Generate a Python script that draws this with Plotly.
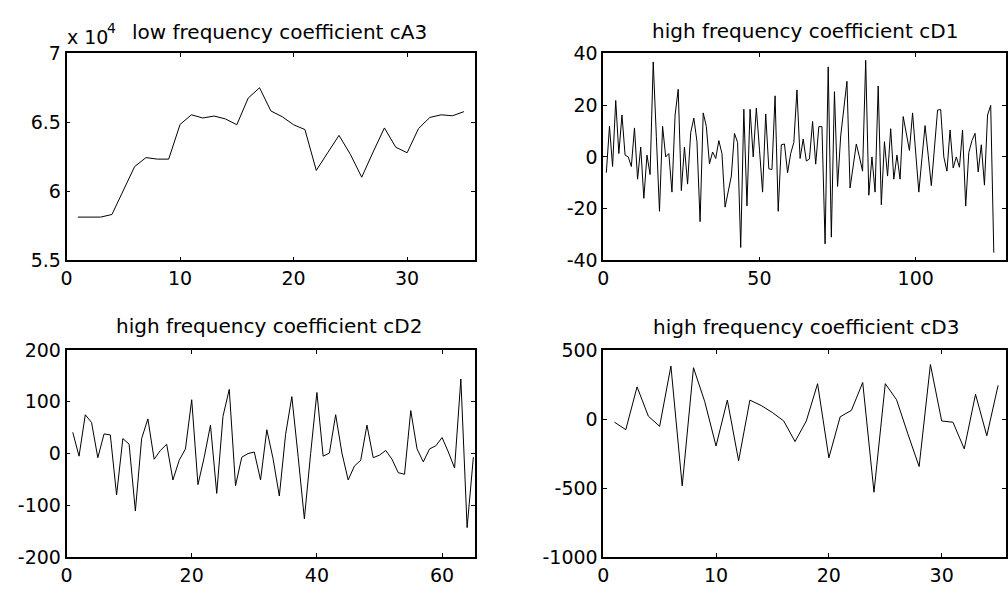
import plotly.graph_objects as go

# ---------------- data ----------------
cA3 = [58140, 58140, 58140, 58330, 60120, 61800, 62450, 62340, 62340, 64850,
       65550, 65320, 65460, 65250, 64830, 66760, 67510, 65830, 65410, 64830,
       64480, 61520, 62800, 64060, 62690, 61030, 62850, 64600, 63200, 62800,
       64550, 65360, 65550, 65480, 65780]

cD1 = [-6.1, 11.8, -3.7, 21.8, 1.3, 16.2, 0.7, 0, -3.7, 11.2,
       -8.6, 3.8, -16, 0.7, -6.8, 36.7, 8, -21, 11.8, 0,
       1.3, -13.6, 16.2, 26.1, -13, 3.8, -10.5, 9.4, 15, 6,
       -25, 17, 11.8, -2.7, 1.9, -0.6, 6.3, 1.3, -19.4, -13,
       -7.4, 9.1, 5.6, -35, 18.4, -18.9, 18.4, 0, 18.9, 3,
       -13.6, 16.6, -4.6, -4.9, 23.6, -21, 4.7, 5, -6.1, 1.3,
       5.6, 25.9, -0.6, 6.9, -1.6, -0.8, 13.7, -2.8, 11.7, 11.7,
       -33.6, 34.8, -31, 25.2, -11.4, 8.1, 19, 29.2, -12, -3,
       5, 0, -5.5, 37.3, -14.8, 0, -13.6, 27.4, -18.5, 5.9,
       -7.4, 10.9, -8.6, 0.7, -8.6, 15.6, 9, 2.5, 17, 2,
       -13.6, -0.5, 12.1, 0.7, -11.1, 3.4, 18.1, 18.3, 0, -5.5,
       10.4, -4.3, 0, -4, 10.4, -19, 1.7, 6.3, 9.1, -5.8,
       4.7, -10.9, 16.2, 19.9, -37]

cD2 = [41, -5, 75, 60, -8, 38, 36, -80, 29, 18,
       -111, 29, 67, -11, 6, 18, -51, -13, 9, 104,
       -60, -7, 55, -77, 72, 124, -62, -7, 0, 3,
       -51, 46, -10, -82, 37, 110, -5, -126, 0, 118,
       -5, 1, 75, 1, -51, -24, -13, 55, -8, -3,
       6, -11, -37, -40, 83, 9, -16, 9, 15, 31,
       3, -28, 144, -143, -7]

cD3 = [-23, -77, 233, 21, -53, 384, -484, 372, 126, -195,
       137, -302, 137, 98, 47, -14, -163, -14, 256, -281,
       16, 63, 265, -530, 256, 140, -107, -344, 395, -14,
       -23, -216, 179, -121, 244]

titles = ["low frequency coefficient cA3", "high frequency coefficient cD1",
          "high frequency coefficient cD2", "high frequency coefficient cD3"]
exponent_base = "x 10"
exponent_power = "4"

cA3_yticks = [55000, 60000, 65000, 70000]
cA3_yticklabels = ["5.5", "6", "6.5", "7"]
cD1_yticks = [-40, -20, 0, 20, 40]
cD1_yticklabels = ["-40", "-20", "0", "20", "40"]
cD2_yticks = [-200, -100, 0, 100, 200]
cD2_yticklabels = ["-200", "-100", "0", "100", "200"]
cD3_yticks = [-1000, -500, 0, 500]
cD3_yticklabels = ["-1000", "-500", "0", "500"]

cA3_xticks = [0, 10, 20, 30]
cD1_xticks = [0, 50, 100]
cD2_xticks = [0, 20, 40, 60]
cD3_xticks = [0, 10, 20, 30]

# ---------------- figure ----------------
W, H = 1008, 597
FONT = "DejaVu Sans"


def px(x):
    return x / W


def py(y):
    return 1 - y / H


series = [cA3, cD1, cD2, cD3]
xdom = [[px(61), px(473)], [px(602), 1.0], [px(61), px(473)], [px(602), 1.0]]
ydom = [[py(259), py(44)], [py(259), py(44)], [py(567), py(352)], [py(567), py(352)]]
xr = [[0, 36], [0, 128.9], [0, 65.3], [0, 35.7]]
yr = [[55000, 70000], [-40, 40], [-200, 200], [-1000, 500]]
yt = [(cA3_yticks, cA3_yticklabels), (cD1_yticks, cD1_yticklabels),
      (cD2_yticks, cD2_yticklabels), (cD3_yticks, cD3_yticklabels)]
xt = [cA3_xticks, cD1_xticks, cD2_xticks, cD3_xticks]

fig = go.Figure()
layout = dict(
    width=W, height=H,
    margin=dict(l=0, r=0, t=0, b=0),
    paper_bgcolor="white", plot_bgcolor="white",
    showlegend=False,
    font=dict(family=FONT, size=19, color="black"),
)

for i, s in enumerate(series):
    n = i + 1
    xa = "x" if n == 1 else f"x{n}"
    ya = "y" if n == 1 else f"y{n}"
    fig.add_trace(go.Scatter(
        x=list(range(1, len(s) + 1)), y=s, mode="lines",
        line=dict(color="black", width=1),
        xaxis=xa, yaxis=ya, hoverinfo="skip"))
    common = dict(showline=True, linecolor="black", linewidth=1.5, mirror="ticks",
                  ticks="inside", ticklen=4, tickwidth=1, tickcolor="black",
                  showgrid=False, zeroline=False,
                  tickfont=dict(family=FONT, size=19, color="black"))
    layout["xaxis" if n == 1 else f"xaxis{n}"] = dict(
        domain=xdom[i], range=xr[i], anchor=ya,
        tickmode="array", tickvals=xt[i], ticktext=[str(v) for v in xt[i]],
        **common)
    layout["yaxis" if n == 1 else f"yaxis{n}"] = dict(
        domain=ydom[i], range=yr[i], anchor=xa,
        tickmode="array", tickvals=yt[i][0], ticktext=yt[i][1],
        **common)

ann = []
title_pos = [(276, 22), (805, 21), (265, 327), (806, 328)]
for t, (cx, cy) in zip(titles, title_pos):
    ann.append(dict(text=t, x=px(cx), y=py(cy), xref="paper", yref="paper",
                    xanchor="center", yanchor="middle", showarrow=False,
                    font=dict(family=FONT, size=20, color="black")))
ann.append(dict(text=exponent_base, x=px(59), y=py(27), xref="paper", yref="paper",
                xanchor="left", yanchor="middle", showarrow=False,
                font=dict(family=FONT, size=19, color="black")))
ann.append(dict(text=exponent_power, x=px(100), y=py(18), xref="paper", yref="paper",
                xanchor="left", yanchor="middle", showarrow=False,
                font=dict(family=FONT, size=14, color="black")))
layout["annotations"] = ann

fig.update_layout(**layout)
fig.write_html("out.html",
               config={"displayModeBar": False},
               post_script="document.body.style.margin='0';"
                           "document.body.style.overflow='hidden';")
